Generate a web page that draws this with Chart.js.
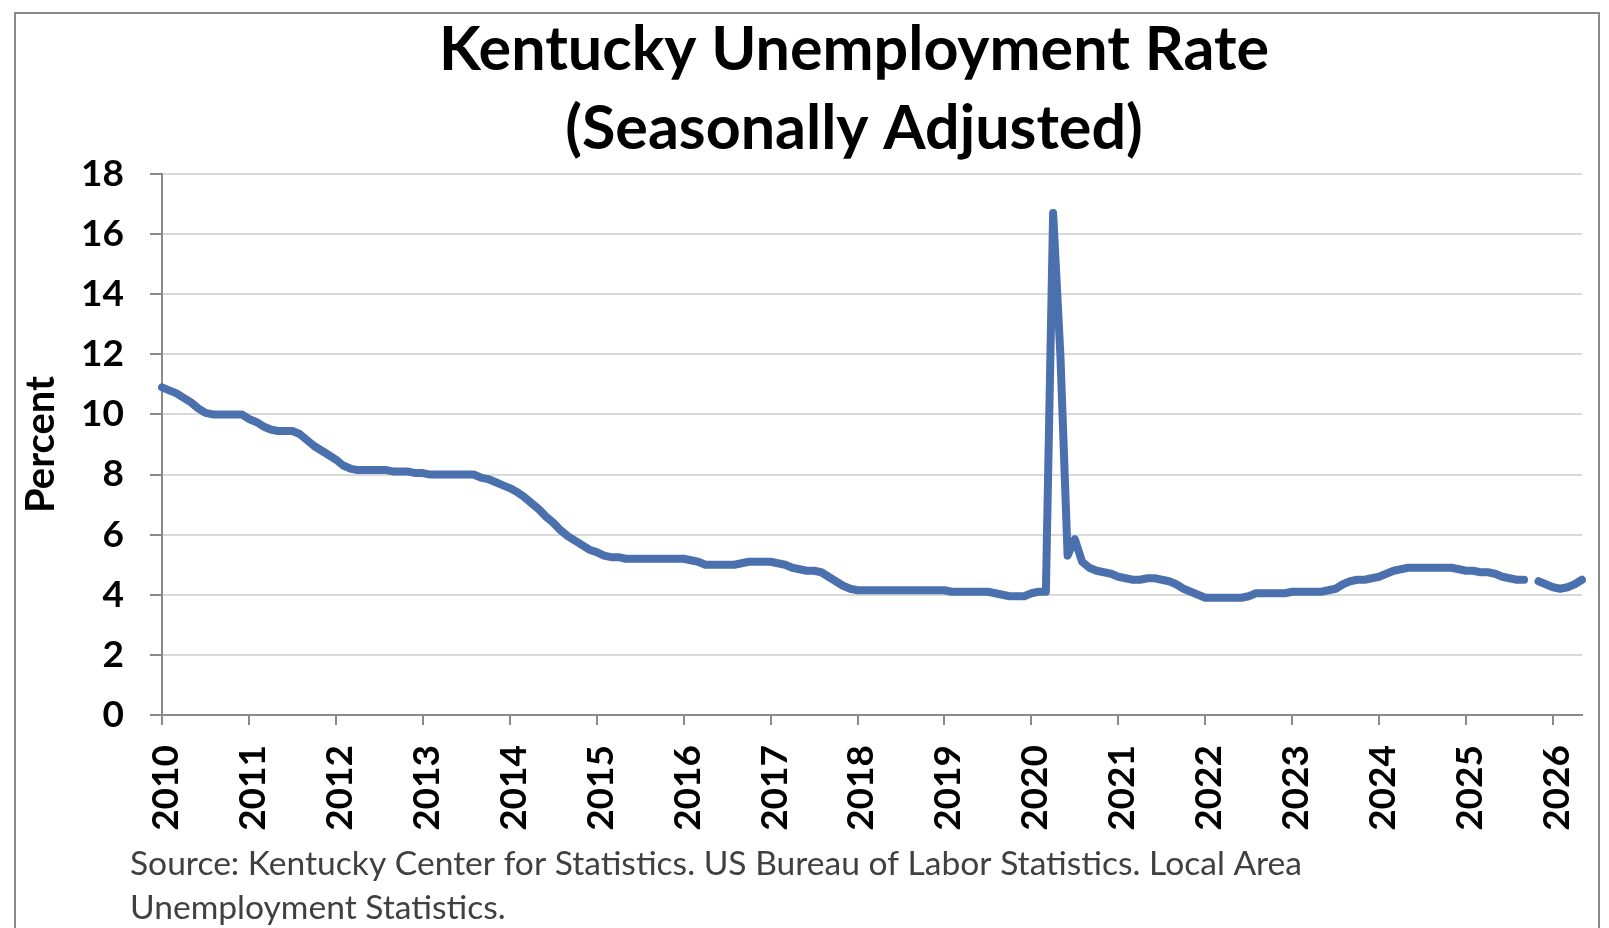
<!DOCTYPE html>
<html>
<head>
<title>Kentucky Unemployment Rate</title>
<script src="https://cdn.jsdelivr.net/npm/chart.js"></script>
<style>
  body { margin: 0; background: #fff; }
  #frame { position: absolute; left: 14px; top: 12px; width: 1582px; height: 940px; border: 2px solid #8a8a8a; }
  canvas { position: absolute; left: 0; top: 0; }
</style>
</head>
<body>
<div id="frame"></div>
<canvas id="myChart" width="1609" height="928"></canvas>
<script>
    const years = [2010, 2011, 2012, 2013, 2014, 2015, 2016, 2017, 2018, 2019, 2020, 2021, 2022, 2023, 2024, 2025, 2026];
    const monthNames = ['Jan', 'Feb', 'Mar', 'Apr', 'May', 'Jun', 'Jul', 'Aug', 'Sep', 'Oct', 'Nov', 'Dec'];

    // monthly rates (Oct 2025 not published)
    const rate2010 = [10.9, 10.8, 10.7, 10.55, 10.4, 10.2, 10.05, 10.0, 10.0, 10.0, 10.0, 10.0];
    const rate2011 = [9.85, 9.75, 9.6, 9.5, 9.45, 9.45, 9.45, 9.35, 9.15, 8.95, 8.8, 8.65];
    const rate2012 = [8.5, 8.3, 8.2, 8.15, 8.15, 8.15, 8.15, 8.15, 8.1, 8.1, 8.1, 8.05];
    const rate2013 = [8.05, 8.0, 8.0, 8.0, 8.0, 8.0, 8.0, 8.0, 7.9, 7.85, 7.75, 7.65];
    const rate2014 = [7.55, 7.42, 7.25, 7.05, 6.85, 6.6, 6.4, 6.15, 5.95, 5.8, 5.65, 5.5];
    const rate2015 = [5.42, 5.3, 5.25, 5.25, 5.2, 5.2, 5.2, 5.2, 5.2, 5.2, 5.2, 5.2];
    const rate2016 = [5.2, 5.15, 5.1, 5.0, 5.0, 5.0, 5.0, 5.0, 5.05, 5.1, 5.1, 5.1];
    const rate2017 = [5.1, 5.05, 5.0, 4.9, 4.85, 4.8, 4.8, 4.75, 4.6, 4.45, 4.3, 4.2];
    const rate2018 = [4.15, 4.15, 4.15, 4.15, 4.15, 4.15, 4.15, 4.15, 4.15, 4.15, 4.15, 4.15];
    const rate2019 = [4.15, 4.1, 4.1, 4.1, 4.1, 4.1, 4.1, 4.05, 4.0, 3.95, 3.95, 3.95];
    const rate2020 = [4.05, 4.1, 4.1, 16.7, 12.0, 5.3, 5.85, 5.1, 4.9, 4.8, 4.75, 4.7];
    const rate2021 = [4.6, 4.55, 4.5, 4.5, 4.55, 4.55, 4.5, 4.45, 4.35, 4.2, 4.1, 4.0];
    const rate2022 = [3.9, 3.9, 3.9, 3.9, 3.9, 3.9, 3.95, 4.05, 4.05, 4.05, 4.05, 4.05];
    const rate2023 = [4.1, 4.1, 4.1, 4.1, 4.1, 4.15, 4.2, 4.35, 4.45, 4.5, 4.5, 4.55];
    const rate2024 = [4.6, 4.7, 4.8, 4.85, 4.9, 4.9, 4.9, 4.9, 4.9, 4.9, 4.9, 4.85];
    const rate2025 = [4.8, 4.8, 4.75, 4.75, 4.7, 4.6, 4.55, 4.5, 4.5, null, 4.45, 4.35];
    const rate2026 = [4.25, 4.2, 4.25, 4.35, 4.5];

    const titleLines = ['Kentucky Unemployment Rate', '(Seasonally Adjusted)'];
    const sourceLines = ['Source: Kentucky Center for Statistics. US Bureau of Labor Statistics. Local Area',
                         'Unemployment Statistics.'];

    const rates = [].concat(rate2010, rate2011, rate2012, rate2013, rate2014, rate2015, rate2016, rate2017,
        rate2018, rate2019, rate2020, rate2021, rate2022, rate2023, rate2024, rate2025, rate2026);

    const labels = years.flatMap(y => monthNames.map(m => m + ' ' + y)).slice(0, rates.length);

    const axisFont = { family: 'Lato', weight: 'bold', size: 37 };

    // title and source note, drawn on the canvas
    const textPlugin = {
        id: 'textPlugin',
        afterDraw(chart) {
            const ctx = chart.ctx;
            ctx.save();
            ctx.fillStyle = '#000';
            ctx.textAlign = 'center';
            ctx.textBaseline = 'alphabetic';
            ctx.font = 'bold 61px Lato';
            titleLines.forEach((t, i) => ctx.fillText(t, 854, 70 + i * 79));
            ctx.fillStyle = '#404040';
            ctx.textAlign = 'left';
            ctx.font = '33.6px Lato';
            sourceLines.forEach((t, i) => ctx.fillText(t, 130, 875 + i * 44));
            ctx.restore();
        }
    };

    const ctx = document.getElementById('myChart').getContext('2d');
    const myChart = new Chart(ctx, {
        type: 'line',
        data: {
            labels: labels,
            datasets: [{
                label: 'Unemployment rate',
                data: rates,
                borderColor: '#4a70ad',
                borderWidth: 8,
                borderJoinStyle: 'round',
                borderCapStyle: 'round',
                pointRadius: 0,
                tension: 0,
                spanGaps: false
            }]
        },
        options: {
            responsive: false,
            animation: false,
            layout: { padding: { left: 0, right: 27, top: 174, bottom: 0 } },
            plugins: {
                legend: { display: false },
                tooltip: { enabled: false }
            },
            scales: {
                x: {
                    ticks: {
                        autoSkip: false,
                        minRotation: 90,
                        maxRotation: 90,
                        color: '#000',
                        font: axisFont,
                        padding: 20,
                        labelOffset: 4,
                        callback: function (value) {
                            const l = this.getLabelForValue(value);
                            return l.startsWith('Jan') ? l.slice(4) : null;
                        }
                    },
                    grid: { drawOnChartArea: false, tickLength: 10, tickColor: '#8a8a8a', lineWidth: 2 },
                    border: { display: true, color: '#8a8a8a', width: 2 },
                    afterFit(scale) {
                        scale.height = 213;
                        scale.paddingLeft = 0;
                        scale.paddingRight = 0;
                    }
                },
                y: {
                    min: 0,
                    max: 18,
                    ticks: { stepSize: 2, color: '#000', font: axisFont, padding: 26 },
                    grid: { color: '#d9d9d9', lineWidth: 2, tickLength: 12, tickColor: '#8a8a8a' },
                    border: { display: true, color: '#8a8a8a', width: 2 },
                    title: {
                        display: true,
                        text: 'Percent',
                        color: '#000',
                        font: { family: 'Lato', weight: 'bold', size: 40 },
                        padding: { top: 17, bottom: 0 }
                    },
                    afterFit(scale) { scale.width = 162; }
                }
            }
        },
        plugins: [textPlugin]
    });
</script>
</body>
</html>
